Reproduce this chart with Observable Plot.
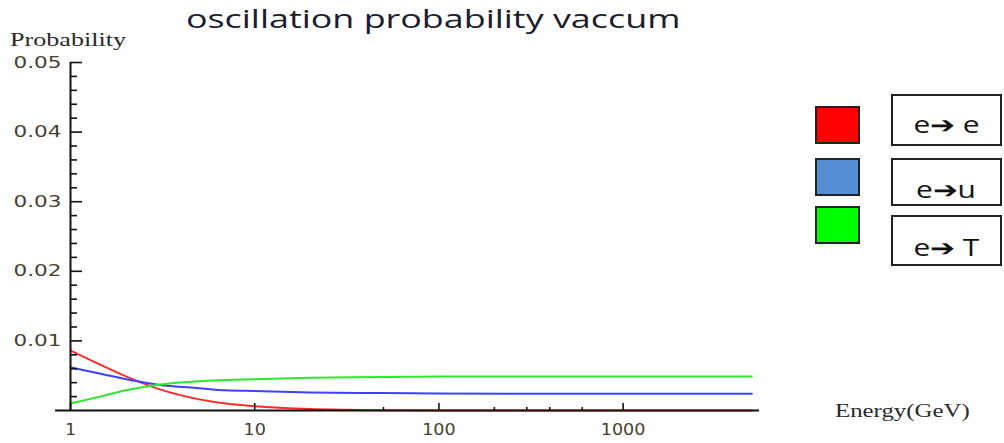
<!DOCTYPE html>
<html><head><meta charset="utf-8">
<script src="https://cdn.jsdelivr.net/npm/d3@7"></script>
<script src="https://cdn.jsdelivr.net/npm/@observablehq/plot@0.6"></script>
<style>
body{margin:0;background:#fff;}
#wrap{position:relative;width:1004px;height:443px;overflow:hidden;background:#fff;}
#wrap svg{position:absolute;left:0;top:0;}
.t{position:absolute;white-space:nowrap;}
#title{left:0;width:866px;top:0px;text-align:center;font-family:"Open Sans";font-size:26px;color:#1c1c30;}
#title span{display:inline-block;transform:scaleX(1.38);transform-origin:50% 50%;}
#ylab{left:10px;top:30px;font-family:"Liberation Serif";font-size:18px;color:#2a2a2a;}
#ylab span{display:inline-block;transform:scaleX(1.45);transform-origin:0 50%;}
#xlab{left:835px;top:401px;font-family:"Liberation Serif";font-size:18px;color:#2a2a2a;}
#xlab span{display:inline-block;transform:scaleX(1.38);transform-origin:0 50%;}
.sw{position:absolute;border:2px solid #222;box-sizing:border-box;}
.lb{position:absolute;border:2px solid #222;box-sizing:border-box;background:#fff;font-family:"Open Sans";font-size:23px;color:#111;text-align:center;}
.lb span{display:inline-block;transform:scaleX(1.3);transform-origin:50% 50%;}
</style></head><body><div id="wrap"></div>
<script>
const energies = [1, 1.5, 2, 3, 5, 7, 10, 20, 50, 100, 300, 1000, 5000];
const probEE = [0.0086, 0.0064, 0.0049, 0.0031, 0.0016, 0.0010, 0.0006, 0.0002, 0.00004, 0.00001, 0, 0, 0];
const probEMu = [0.0062, 0.0052, 0.0045, 0.0037, 0.0032, 0.0029, 0.0028, 0.0026, 0.0025, 0.00245, 0.0024, 0.0024, 0.0024];
const probETau = [0.0010, 0.0021, 0.0029, 0.0037, 0.0042, 0.0044, 0.0045, 0.0047, 0.0048, 0.0049, 0.0049, 0.0049, 0.0049];
const seriesNames = ["e➔ e", "e➔u", "e➔ T"];
const lineColors = ["#ff2a2a", "#4040ff", "#2ee82e"];
const swatchColors = ["#ff0000", "#558ed5", "#00ff00"];
const yMajor = [0.01, 0.02, 0.03, 0.04, 0.05];
const yMinor = [0.002,0.004,0.006,0.008,0.012,0.014,0.016,0.018,0.022,0.024,0.026,0.028,0.032,0.034,0.036,0.038,0.042,0.044,0.046,0.048];
const xMajor = [1, 10, 100, 1000];
const xMinor = [50, 200, 300, 400, 600];

const seriesVals = [probEE, probEMu, probETau];
const data = seriesNames.flatMap((s, k) => energies.map((e, i) => ({E: e, P: seriesVals[k][i], s})));

const plot = Plot.plot({
  width: 1004, height: 443,
  marginLeft: 70, marginRight: 245, marginTop: 62, marginBottom: 33,
  style: {fontFamily: "DejaVu Sans", fontSize: "16px", color: "#111", background: "transparent"},
  x: {type: "log", domain: [1, 5500], label: null},
  y: {domain: [0, 0.05], label: null},
  color: {domain: seriesNames, range: lineColors},
  marks: [
    Plot.line(data, {x: "E", y: "P", stroke: "s", strokeWidth: 2, curve: "monotone-x"}),
    Plot.ruleY([0], {x1: 0.83, x2: 5500, stroke: "#111", strokeWidth: 2}),
    Plot.ruleX([1], {y1: 0, y2: 0.05, stroke: "#111", strokeWidth: 2}),
    Plot.axisY({ticks: yMajor, tickSize: 12, dx: 12, tickFormat: () => "", strokeWidth: 1.6}),
    Plot.axisY({ticks: yMinor, tickSize: 7, dx: 7, tickFormat: () => "", strokeWidth: 1.6}),
    Plot.axisY({ticks: yMajor, tickSize: 0, tickPadding: 9, tickFormat: d3.format(".2f"), fill: "#4a4030"}),
    Plot.axisX({ticks: xMajor, tickSize: 7, dy: -7, tickFormat: () => "", strokeWidth: 1.6}),
    Plot.axisX({ticks: xMinor, tickSize: 3, dy: -3, tickFormat: () => "", strokeWidth: 1.6}),
    Plot.axisX({ticks: xMajor, tickSize: 0, tickPadding: 13, tickFormat: d => String(d), fill: "#4a4030"})
  ]
});
function stretch(sel, k) {
  plot.querySelectorAll(sel).forEach(t => {
    const tr = t.getAttribute("transform") || "";
    t.setAttribute("transform", tr + ` scale(${k},1)`);
  });
}
stretch('[aria-label="y-axis tick label"] text', 1.35);
stretch('[aria-label="x-axis tick label"] text', 1.1);
const wrap = document.getElementById("wrap");
wrap.appendChild(plot);

function addText(id, txt) {
  const d = document.createElement("div"); d.className = "t"; d.id = id;
  const s = document.createElement("span"); s.textContent = txt; d.appendChild(s);
  wrap.appendChild(d);
}
addText("title", "oscillation probability vaccum");
addText("ylab", "Probability");
addText("xlab", "Energy(GeV)");

const swTops = [106, 158, 206];
const lbBoxes = [[94, 52, 4], [158, 48, 10], [215, 51, 10]];
seriesNames.forEach((name, i) => {
  const s = document.createElement("div");
  s.className = "sw";
  Object.assign(s.style, {left: "815px", top: swTops[i] + "px", width: "45px", height: "38px", background: swatchColors[i]});
  wrap.appendChild(s);
  const b = document.createElement("div");
  b.className = "lb";
  const [top, h, off] = lbBoxes[i];
  Object.assign(b.style, {left: "891px", top: top + "px", width: "111px", height: h + "px", lineHeight: (h + off) + "px"});
  const sp = document.createElement("span"); sp.textContent = name; b.appendChild(sp);
  wrap.appendChild(b);
});
</script>
</body></html>
